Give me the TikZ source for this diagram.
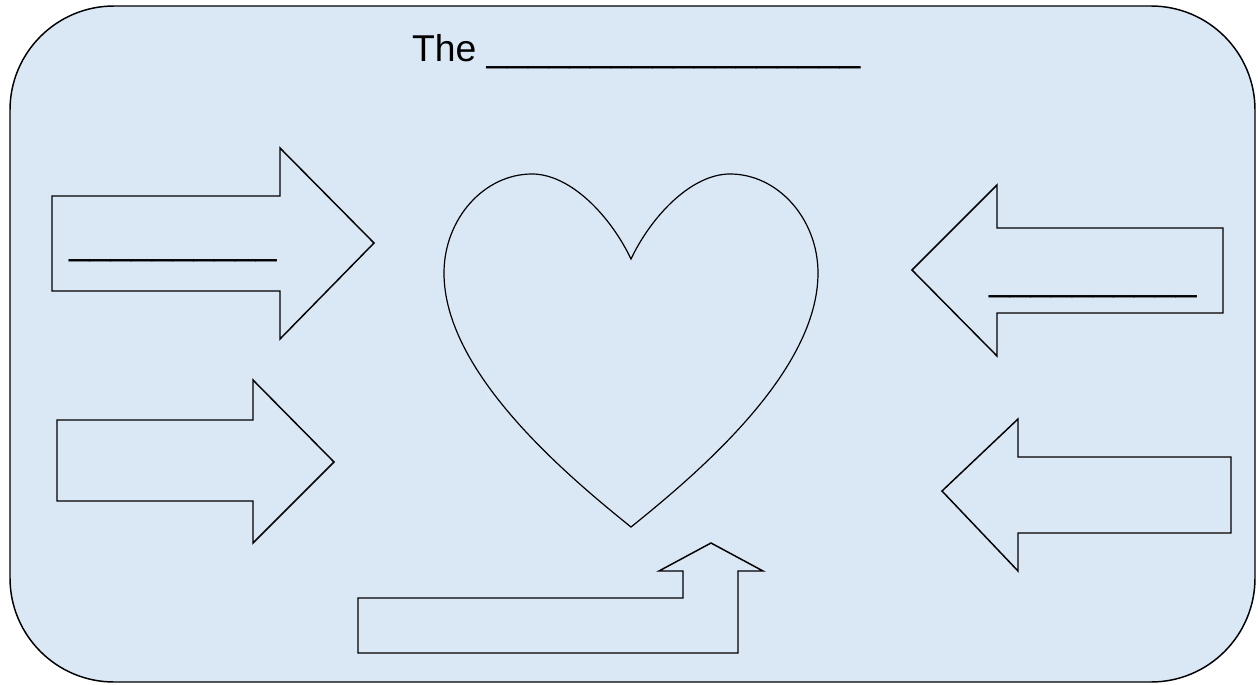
\documentclass[tikz,border=0pt]{standalone}
\usepackage{fontspec}
\setmainfont{Liberation Sans}
\definecolor{panel}{RGB}{218,232,246}
\begin{document}
\begin{tikzpicture}[x=0.75pt,y=-0.75pt,
  shape line/.style={draw=black,line width=1.1pt,line join=miter},
  blank/.style={inner sep=0pt,outer sep=0pt,font=\fontsize{28}{30}\selectfont,anchor=base west}]
\useasboundingbox (0,0) rectangle (1258,685);
% panel
\draw[fill=panel,line width=1.1pt,rounded corners=78pt] (10,6) rectangle (1255,682);
% title
\node[blank] (title) at (412,62) {The \_\_\_\_\_\_\_\_\_\_\_\_\_\_\_\_\_\_};
% top-left arrow
\draw[shape line] (52,196) -- (280,196) -- (280,148) -- (374,243) -- (280,339) -- (280,291) -- (52,291) -- cycle;
\node[blank] (labelA) at (69,254) {\_\_\_\_\_\_\_\_\_\_};
% bottom-left arrow
\draw[shape line] (57,420) -- (253,420) -- (253,380) -- (334,462) -- (253,543) -- (253,501) -- (57,501) -- cycle;
% top-right arrow
\draw[shape line] (1223,228) -- (997,228) -- (997,185) -- (912,270) -- (997,356) -- (997,313) -- (1223,313) -- cycle;
\node[blank] (labelC) at (989,290) {\_\_\_\_\_\_\_\_\_\_};
% bottom-right arrow
\draw[shape line] (1231,457) -- (1018,457) -- (1018,419) -- (942,491) -- (1018,571) -- (1018,533) -- (1231,533) -- cycle;
% bent arrow
\draw[shape line] (358,653) -- (358,598) -- (683,598) -- (683,571) -- (659,571) -- (711,543) -- (763,571) -- (738,571) -- (738,653) -- cycle;
% heart
\draw[line width=0.9pt] (631,527)
  .. controls (560,470) and (444,370) .. (444,273)
  .. controls (444,219) and (484,174) .. (532,174)
  .. controls (570,174) and (610,215) .. (631,259)
  .. controls (652,215) and (692,174) .. (730,174)
  .. controls (778,174) and (818,219) .. (818,273)
  .. controls (818,370) and (702,470) .. (631,527) -- cycle;
\end{tikzpicture}
\end{document}
